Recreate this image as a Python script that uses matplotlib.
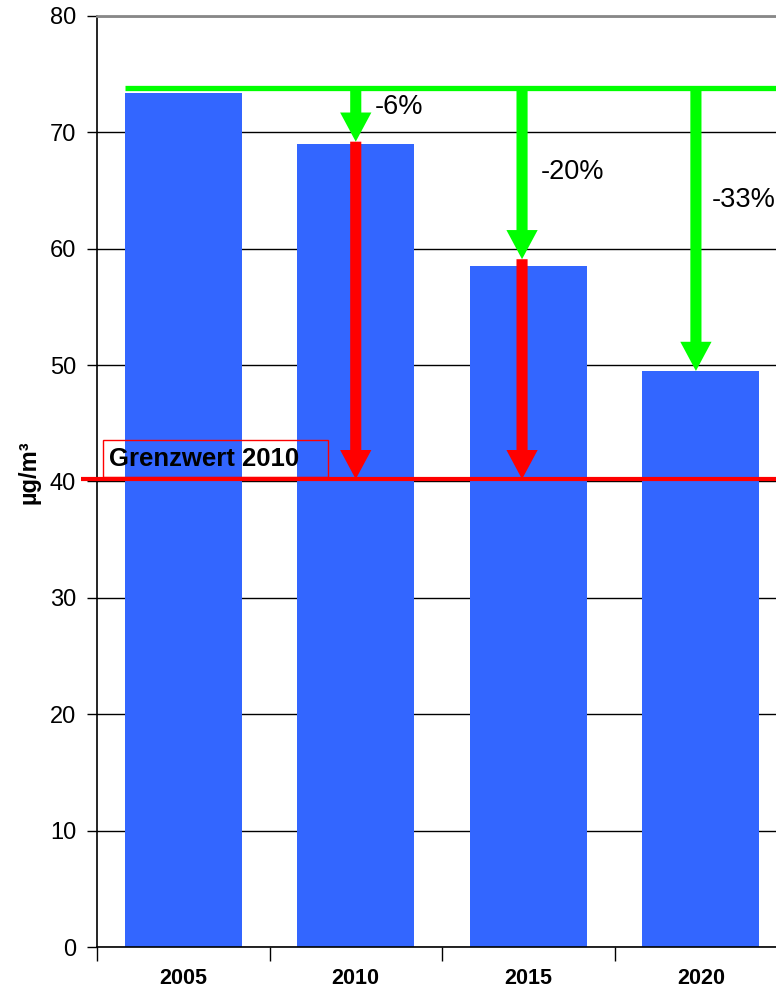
import matplotlib.pyplot as plt
from matplotlib.patches import Rectangle

# annual mean concentration per scenario year
years = ['2005', '2010', '2015', '2020']
concentration = [73.4, 69.0, 58.5, 49.5]

# reference level (2005) and the 2010 limit value
reference_level = 73.8
limit_value = 40.2
limit_label = 'Grenzwert 2010'

# reduction arrows: where each arrow ends and its label
reduction_tips = [69.2, 59.1, 49.5]
reduction_labels = ['-6%', '-20%', '-33%']
# gap to the limit for the years that still exceed it
excess_tops = [69.2, 59.1]

BLUE = '#3366FF'
GREEN = '#00FF00'
RED = '#FF0000'

plt.rcParams['font.family'] = ['Liberation Sans', 'DejaVu Sans']

fig = plt.figure(figsize=(7.76, 9.91), dpi=100)
ax = fig.add_axes([97 / 776, 1 - 947 / 991, 690 / 776, 931 / 991])

x = list(range(len(years)))
ax.bar(x, concentration, width=0.68, color=BLUE, zorder=2)

ax.set_xlim(-0.5, len(years) - 0.5)
ax.set_ylim(0, 80)

# gridlines
ax.set_yticks(range(0, 81, 10))
ax.yaxis.grid(True, color='black', lw=1)
ax.set_axisbelow(True)
ax.tick_params(axis='y', direction='out', length=7, width=1, pad=8, labelsize=17)

# year labels centred between the category ticks
ax.set_xticks([i - 0.5 for i in range(len(years) + 1)])
ax.set_xticks(x, minor=True)
ax.tick_params(axis='x', which='major', direction='out', length=10, width=1,
               labelbottom=False)
ax.tick_params(axis='x', which='minor', length=0, pad=15, labelsize=15.5)
ax.set_xticklabels(years, minor=True)
for lbl in ax.get_xticklabels(minor=True):
    lbl.set_fontweight('bold')
    lbl.set_fontsize(15.5)

ax.spines['right'].set_visible(False)
ax.spines['top'].set_color('#888888')
ax.spines['top'].set_linewidth(2)
ax.spines['left'].set_linewidth(1.2)
ax.spines['bottom'].set_linewidth(1.2)

ax.set_ylabel('µg/m³', fontweight='bold', fontsize=17)
ax.yaxis.set_label_coords(-57 / 690, 0.51)

# reference line and limit line
ax.plot([-0.34, 3.6], [reference_level] * 2, color=GREEN, lw=3.8,
        solid_capstyle='butt', clip_on=False, zorder=4)
ax.plot([-0.59, 3.6], [limit_value] * 2, color=RED, lw=3,
        solid_capstyle='butt', clip_on=False, zorder=4)

arrow_x = [1.0, 1.964, 2.972]
arrow_style = 'simple,tail_width=0.8,head_width=2.25,head_length=2.1'


def draw_arrow(xpos, y_from, y_to, color):
    ax.annotate('', xy=(xpos, y_to), xytext=(xpos, y_from),
                arrowprops=dict(arrowstyle=arrow_style, mutation_scale=10,
                                color=color, lw=0, shrinkA=0, shrinkB=0),
                zorder=5, annotation_clip=False)


for xpos, top in zip(arrow_x, excess_tops):
    draw_arrow(xpos, top, limit_value, RED)

for xpos, tip in zip(arrow_x, reduction_tips):
    draw_arrow(xpos, reference_level, tip, GREEN)

label_y = [72.2, 66.6, 64.2]
label_dx = [0.11, 0.11, 0.09]
for xpos, dx, ly, lab in zip(arrow_x, label_dx, label_y, reduction_labels):
    ax.text(xpos + dx, ly, lab, fontsize=19.5, va='center', ha='left', zorder=6)

# limit value label with outline box
ax.add_patch(Rectangle((-0.465, 40.4), 1.304, 3.2, fill=False, ec=RED, lw=1,
                       zorder=6, clip_on=False))
ax.text(-0.43, 41.95, limit_label, fontsize=18.5, fontweight='bold',
        va='center', ha='left', zorder=7)

fig.savefig('out.png', dpi=100)
